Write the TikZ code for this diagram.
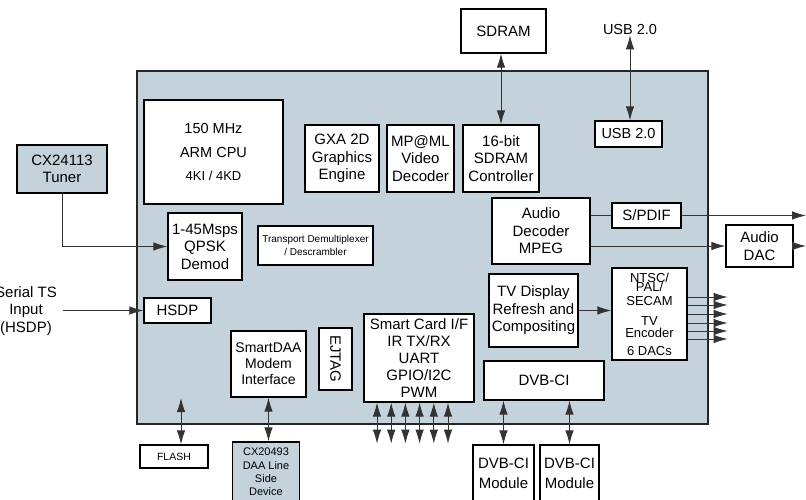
\documentclass[tikz,border=0pt]{standalone}
\usepackage{fontspec}
\setmainfont{Liberation Sans}
\usetikzlibrary{arrows.meta}
\definecolor{chipfill}{RGB}{196,211,219}
\begin{document}
\begin{tikzpicture}[x=1pt,y=-1pt,
  blk/.style={draw=black, line width=1.3pt, fill=white, align=center, inner sep=0pt, font=\fontsize{15}{17.5}\selectfont},
  ext/.style={blk, fill=chipfill},
  chipbox/.style={draw=black!85, line width=2.8pt, fill=chipfill, inner sep=0pt},
  conn/.style={line width=0.9pt, draw=black!80},
  tip/.tip={Latex[length=14pt,width=8.5pt]},
  arr/.style={conn, -tip},
  dbl/.style={conn, tip-tip},
  lbl/.style={align=center, inner sep=0pt, font=\fontsize{15}{17.5}\selectfont}
]
\useasboundingbox (0,0) rectangle (806,500);
\clip (0,0) rectangle (806,500);
\fill[white] (0,0) rectangle (806,500);
\node[chipbox, minimum width=571pt, minimum height=353pt] (chip) at (422.5,247.5) {};

\node[blk, minimum width=139pt, minimum height=104pt, font=\fontsize{14.5}{17.5}\selectfont] (cpu) at (213.5,152) {150 MHz\\[7pt]ARM CPU\\[5pt]{\fontsize{13}{13}\selectfont 4KI / 4KD}};
\node[ext, line width=1.8pt, minimum width=90pt, minimum height=48pt] (tuner) at (62,169) {CX24113\\Tuner};
\node[blk, minimum width=74pt, minimum height=67pt] (qpsk) at (205,246.5) {1-45Msps\\QPSK\\Demod};
\node[blk, minimum width=67pt, minimum height=25pt] (hsdp) at (177.5,310.5) {HSDP};
\node[lbl] (serial) at (26,311) {Serial TS\\Input\\(HSDP)};
\node[blk, minimum width=115pt, minimum height=39pt, font=\fontsize{10}{12.5}\selectfont] (tdemux) at (315.5,245.5) {Transport Demultiplexer\\/ Descrambler};
\node[blk, minimum width=74pt, minimum height=67pt] (gxa) at (342,158.5) {GXA 2D\\Graphics\\Engine};
\node[blk, minimum width=67pt, minimum height=67pt] (mpml) at (420.5,158.5) {MP@ML\\Video\\Decoder};
\node[blk, minimum width=76pt, minimum height=67pt] (ctrl) at (501,158.5) {16-bit\\SDRAM\\Controller};
\node[blk, minimum width=85pt, minimum height=44pt] (sdram) at (503.5,31) {SDRAM};
\node[lbl, font=\fontsize{14.5}{17}\selectfont] (usblbl) at (630,30) {USB 2.0};
\node[blk, minimum width=67pt, minimum height=26pt, font=\fontsize{14.5}{17}\selectfont] (usb) at (628.5,134) {USB 2.0};
\node[blk, minimum width=98pt, minimum height=66pt] (adec) at (541,231) {Audio\\Decoder\\MPEG};
\node[blk, minimum width=69pt, minimum height=25pt] (spdif) at (646.5,215.5) {S/PDIF};
\node[blk, minimum width=67pt, minimum height=42pt] (dac) at (759.5,246) {Audio\\DAC};
\node[blk, minimum width=89pt, minimum height=73pt] (tvd) at (533.5,310.5) {TV Display\\Refresh and\\Compositing};
\node[blk, minimum width=75pt, minimum height=92pt, font=\fontsize{13}{13}\selectfont] (ntsc) at (649.5,314) {NTSC/\\[-3.5pt]PAL/\\[1pt]SECAM\\[6.7pt]TV\\[-0.7pt]Encoder\\[4.7pt]6 DACs};
\node[blk, minimum width=120pt, minimum height=39pt] (dvbci) at (544,380.5) {DVB-CI};
\node[blk, minimum width=61pt, minimum height=56pt, font=\fontsize{15}{20}\selectfont] (mod1) at (503.5,473) {DVB-CI\\Module};
\node[blk, minimum width=59pt, minimum height=56pt, font=\fontsize{15}{20}\selectfont] (mod2) at (569.5,473) {DVB-CI\\Module};
\node[blk, minimum width=75pt, minimum height=66pt, font=\fontsize{14}{16}\selectfont] (sdaa) at (268.5,364) {SmartDAA\\Modem\\Interface};
\node[blk, minimum width=33pt, minimum height=62pt] (ejtag) at (335.5,359) {};
\node[lbl, rotate=-90] (ejtagtxt) at (ejtag.center) {EJTAG};
\node[blk, minimum width=110pt, minimum height=88pt, font=\fontsize{15}{16.8}\selectfont] (scard) at (419,358) {Smart Card I/F\\IR TX/RX\\UART\\GPIO/I2C\\PWM};
\node[blk, minimum width=68pt, minimum height=23pt, font=\fontsize{10.5}{12}\selectfont] (flash) at (174,456.5) {FLASH};
\node[ext, minimum width=67pt, minimum height=60pt, font=\fontsize{11}{13.3}\selectfont] (cx) at (266,472) {CX20493\\DAA Line\\Side\\Device};

% connectors
\draw[dbl] (ctrl.north |- sdram.south) -- (ctrl.north);
\draw[dbl] (usblbl.south) -- (usblbl.south |- usb.north);
\draw[arr] (tuner.south) |- (qpsk.west);
\coordinate (tsin) at (63,310.5);
\draw[arr] (tsin) -- (hsdp.west);
\draw[conn] (adec.east |- spdif.west) -- (spdif.west);
\coordinate (spdifout) at (806,215.5);
\draw[arr] (spdif.east) -- (spdifout);
\draw[arr] (adec.east |- dac.west) -- (dac.west);
\coordinate (dacout) at (806,246);
\draw[arr] (dac.east) -- (dacout);
\draw[arr] (tvd.east) -- (tvd.east -| ntsc.west);
\foreach \dy in {17,9,0,-9,-17,-25}
  \draw[arr] ([yshift=\dy pt]ntsc.east) -- ++(40,0);
\foreach \dx in {-42,-27.8,-13.6,0.6,14.8,29}
  \draw[dbl] ([xshift=\dx pt]scard.south) -- ++(0,41);
\coordinate (flashin) at (181,398);
\draw[dbl] (flashin) -- (flashin |- flash.north);
\draw[dbl] (sdaa.south) -- (sdaa.south |- cx.north);
\draw[dbl] (mod1.north |- dvbci.south) -- (mod1.north);
\draw[dbl] (mod2.north |- dvbci.south) -- (mod2.north);
\end{tikzpicture}
\end{document}
